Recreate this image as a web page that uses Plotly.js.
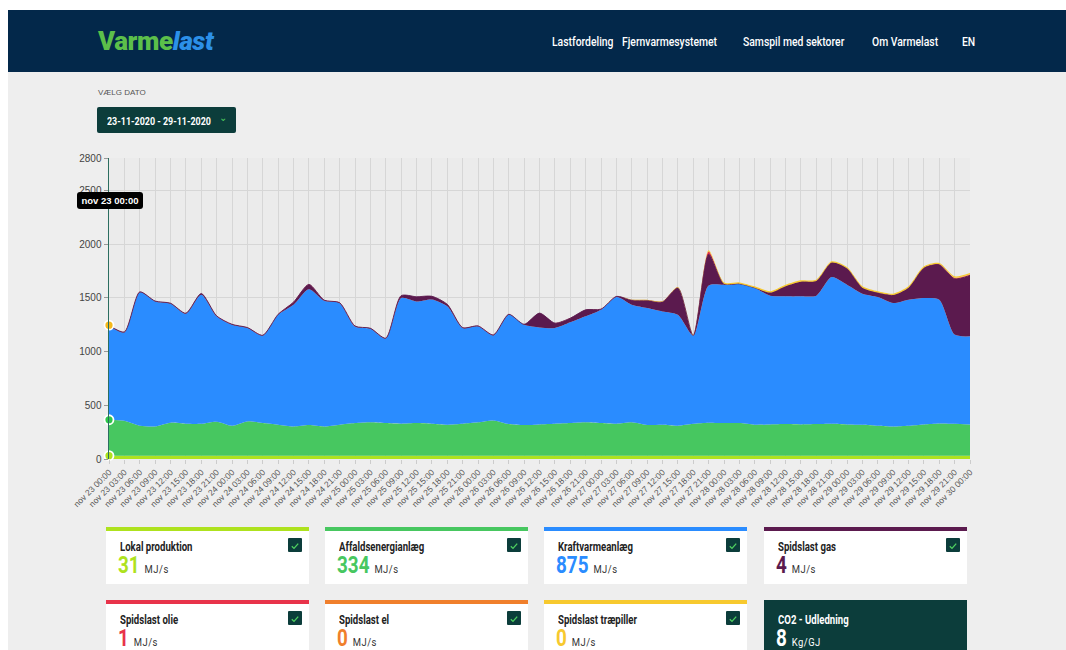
<!DOCTYPE html>
<html>
<head>
<meta charset="utf-8">
<script src="https://cdn.plot.ly/plotly-3.0.1.min.js"></script>
<style>
  html, body { margin:0; padding:0; background:#ffffff; width:1066px; height:650px; overflow:hidden; }
  body { font-family:'Roboto',sans-serif; }
  #page { position:absolute; left:8px; top:10px; width:1058px; height:640px; background:#eeeeee; }
  #header { position:absolute; left:8px; top:10px; width:1058px; height:62px; background:#03284a; }
  .logo { position:absolute; left:98px; top:26px; font-weight:900; font-size:26px; letter-spacing:-0.4px; }
  .logo .a { color:#5cbf4a; }
  .logo .b { color:#2c90e8; font-style:italic; }
  .nav { position:absolute; top:34px; color:#fff; font-weight:500; font-size:12.5px; transform:scaleX(0.83); transform-origin:0 0; white-space:nowrap; }
  .lbl { position:absolute; left:98px; top:88px; font-size:8px; color:#555; font-family:'Liberation Sans','Roboto',sans-serif; }
  .datebtn { position:absolute; left:97px; top:107px; width:139px; height:26px; background:#0c3d3b; border-radius:2px; }
  .datebtn span { position:absolute; left:10px; top:7.5px; color:#fff; font-weight:bold; font-size:10.5px; transform:scaleX(0.85); transform-origin:0 0; white-space:nowrap; }
  .datebtn i { position:absolute; left:122px; top:5px; color:#4ecb5e; font-style:normal; font-size:10px; }
  #chart { position:absolute; left:0; top:140px; width:1066px; height:380px; }
  .tip { position:absolute; left:77px; top:192px; width:66px; height:17px; background:#000; border-radius:3px; color:#fff;
         font-family:'Liberation Sans',Arial,sans-serif; font-weight:bold; font-size:9.5px; line-height:17px; text-align:center; }
  .card { position:absolute; width:203px; height:53px; background:#fff; border-top:4px solid #ccc; }
  .card .t { position:absolute; left:14px; top:10px; font-weight:700; font-size:12px; line-height:12px; color:#222; transform:scaleX(0.8); transform-origin:0 0; white-space:nowrap; }
  .card .v { position:absolute; left:12px; top:24px; font-weight:bold; font-size:23px; line-height:22px; transform:scaleX(0.82); transform-origin:0 0; white-space:nowrap; }
  .card .u { font-size:11.5px; color:#333; font-weight:400; margin-left:6px; letter-spacing:0.6px; }
  .card .cb { position:absolute; left:182px; top:7px; width:14px; height:14px; background:#0c3d3b; border-radius:1px; }
  .co2 { background:#0c3d3b; border-top:4px solid #0c3d3b; }
  .co2 .t, .co2 .v, .co2 .u { color:#fff; }
</style>
</head>
<body>
<div id="page"></div>
<div id="header"></div>
<div class="logo"><span class="a">Varme</span><span class="b">last</span></div>
<div class="nav" style="left:552px">Lastfordeling</div>
<div class="nav" style="left:622px">Fjernvarmesystemet</div>
<div class="nav" style="left:743px">Samspil med sektorer</div>
<div class="nav" style="left:872px">Om Varmelast</div>
<div class="nav" style="left:962px">EN</div>
<div class="lbl">VÆLG DATO</div>
<div class="datebtn"><span>23-11-2020 - 29-11-2020</span><i>&#8964;</i></div>
<div id="chart"></div>
<div id="cards"></div>
<script>
// ---- Data (3-hour resolution) ----
const times = [
 "2020-11-23 00:00","2020-11-23 03:00","2020-11-23 06:00","2020-11-23 09:00","2020-11-23 12:00","2020-11-23 15:00","2020-11-23 18:00","2020-11-23 21:00",
 "2020-11-24 00:00","2020-11-24 03:00","2020-11-24 06:00","2020-11-24 09:00","2020-11-24 12:00","2020-11-24 15:00","2020-11-24 18:00","2020-11-24 21:00",
 "2020-11-25 00:00","2020-11-25 03:00","2020-11-25 06:00","2020-11-25 09:00","2020-11-25 12:00","2020-11-25 15:00","2020-11-25 18:00","2020-11-25 21:00",
 "2020-11-26 00:00","2020-11-26 03:00","2020-11-26 06:00","2020-11-26 09:00","2020-11-26 12:00","2020-11-26 15:00","2020-11-26 18:00","2020-11-26 21:00",
 "2020-11-27 00:00","2020-11-27 03:00","2020-11-27 06:00","2020-11-27 09:00","2020-11-27 12:00","2020-11-27 15:00","2020-11-27 18:00","2020-11-27 21:00",
 "2020-11-28 00:00","2020-11-28 03:00","2020-11-28 06:00","2020-11-28 09:00","2020-11-28 12:00","2020-11-28 15:00","2020-11-28 18:00","2020-11-28 21:00",
 "2020-11-29 00:00","2020-11-29 03:00","2020-11-29 06:00","2020-11-29 09:00","2020-11-29 12:00","2020-11-29 15:00","2020-11-29 18:00","2020-11-29 21:00",
 "2020-11-30 00:00"];

const lokalProduktion = [31,31,31,31,31,31,31,31,31,31,31,31,31,31,31,31,31,31,31,31,31,31,31,31,31,31,31,31,31,31,31,31,31,31,31,31,31,31,31,31,31,31,31,31,31,31,31,31,31,31,31,31,31,31,31,31,31];
const affaldsenergianlaeg = [334,325,279,272,307,297,297,316,279,319,303,288,272,285,272,288,303,310,303,297,303,297,288,297,310,328,294,285,291,297,303,310,303,297,310,285,288,279,297,307,303,303,288,291,294,291,294,297,291,288,279,272,279,291,300,297,291];
const kraftvarmeanlaeg = [875,822,1240,1163,1107,1024,1200,980,939,869,813,1023,1132,1264,1169,1131,899,871,786,1169,1132,1156,1101,890,893,791,1017,933,902,890,937,986,1055,1179,1095,1089,1054,1032,822,1277,1288,1294,1272,1197,1188,1191,1194,1365,1300,1219,1197,1148,1172,1176,1151,829,819];
const spidslastGas = [4,4,4,3,4,4,11,4,4,4,4,4,24,44,5,4,4,4,4,22,43,30,19,4,4,4,4,4,133,46,39,61,5,5,41,70,89,251,0,290,8,2,2,28,94,136,136,133,151,55,40,74,111,281,326,520,567];
const spidslastOlie = [1,1,1,1,1,1,1,1,1,1,1,1,1,1,1,1,1,1,1,1,1,1,1,1,1,1,1,1,1,1,1,1,1,1,1,1,1,1,3,25,1,1,1,1,1,1,1,1,1,1,1,1,1,1,3,6,6];
const spidslastEl = [0,0,0,0,0,0,0,0,0,0,0,0,0,0,0,0,0,0,0,0,0,0,0,0,0,0,0,0,0,0,0,0,0,0,0,0,0,0,0,0,0,0,0,0,0,0,0,0,0,0,0,0,0,0,0,4,4];
const spidslastTraepiller = [0,0,0,0,0,0,0,0,0,0,0,0,0,0,0,0,0,0,0,0,0,0,0,0,0,0,0,0,0,0,0,0,0,0,4,6,4,6,2,12,12,12,12,12,12,12,12,12,12,12,12,12,12,12,12,12,12];

const yTicks = [0,500,1000,1500,2000,2500,2800];
const seriesNames = ["Lokal produktion","Affaldsenergianlæg","Kraftvarmeanlæg","Spidslast gas","Spidslast olie","Spidslast el","Spidslast træpiller"];
const seriesColors = ["#aee21e","#47c760","#2a8cff","#5b1a4e","#e8334a","#f07f2c","#f7c92e"];
const lineWidths = [0, 0, 0, 0.9, 0, 0, 0];
const seriesData = [lokalProduktion, affaldsenergianlaeg, kraftvarmeanlaeg, spidslastGas, spidslastOlie, spidslastEl, spidslastTraepiller];
const co2Value = 8;

const tickLabels = times.map(t => "nov " + t.slice(8,10) + " " + t.slice(11));

const traces = seriesData.map((d, k) => ({
  type:'scatter', mode:'lines', x: times, y: d, name: seriesNames[k],
  stackgroup:'one', fillcolor: seriesColors[k],
  line:{color: seriesColors[k], width: lineWidths[k], shape:'spline', smoothing:0.7},
  hoverinfo:'skip'
}));

// hover markers at the first time point (cumulative values)
function cum(k){ let s=0; for(let j=0;j<=k;j++) s+=seriesData[j][0]; return s; }
const markerIdx = [0,1,6];
const markerCols = ["#aee21e","#2fc74a","#f5b91c"];
markerIdx.forEach((k,m) => {
  traces.push({type:'scatter', mode:'markers', x:[times[0]], y:[cum(k)], showlegend:false, hoverinfo:'skip',
    marker:{size:9, color:markerCols[m], line:{color:'#ffffff', width:1.8}}, cliponaxis:false});
});

const layout = {
  width:1066, height:380,
  margin:{l:109, r:96, t:18, b:61},
  paper_bgcolor:'rgba(0,0,0,0)', plot_bgcolor:'#ebebeb',
  showlegend:false,
  font:{family:'Liberation Sans, Arial, sans-serif', color:'#555'},
  xaxis:{type:'date', range:[times[0], times[times.length-1]], tickvals:times, ticktext:tickLabels,
    tickangle:-45, tickfont:{size:8.5, color:'#555'}, showgrid:true, gridcolor:'#d6d6d6', gridwidth:1,
    ticks:'outside', ticklen:4, tickcolor:'#cccccc', showline:false, zeroline:false, fixedrange:true},
  yaxis:{range:[0,2800], tickvals:yTicks, tickfont:{size:10, color:'#444'}, showgrid:true, gridcolor:'#d6d6d6',
    ticks:'outside', ticklen:4, tickcolor:'#999', showline:true, linecolor:'#2b6e60', linewidth:1.5, zeroline:false, fixedrange:true}
};
Plotly.newPlot('chart', traces, layout, {displayModeBar:false, staticPlot:true});

// hover tooltip (first time point label)
const tip = document.createElement('div');
tip.className = 'tip';
tip.textContent = tickLabels[0];
document.body.appendChild(tip);

// ---- cards ----
const cardLefts = [106,325,544,764];
const firstValues = [lokalProduktion[0], affaldsenergianlaeg[0], kraftvarmeanlaeg[0], spidslastGas[0], spidslastOlie[0], spidslastEl[0], spidslastTraepiller[0]];
const check = '<svg width="14" height="14" viewBox="0 0 14 14"><polyline points="3.8,7.2 6,9.4 10.2,4.6" fill="none" stroke="#4fd160" stroke-width="1.3"/></svg>';
let html = '';
for (let k=0;k<8;k++){
  const row = Math.floor(k/4), col = k%4;
  const top = row===0 ? 527 : 600;
  if (k<7){
    html += `<div class="card" style="left:${cardLefts[col]}px;top:${top}px;border-top-color:${seriesColors[k]}">
      <div class="t">${seriesNames[k]}</div><div class="cb">${check}</div>
      <div class="v" style="color:${seriesColors[k]}">${firstValues[k]}<span class="u">MJ/s</span></div></div>`;
  } else {
    html += `<div class="card co2" style="left:${cardLefts[col]}px;top:${top}px">
      <div class="t">CO2 - Udledning</div>
      <div class="v">${co2Value}<span class="u">Kg/GJ</span></div></div>`;
  }
}
document.getElementById('cards').innerHTML = html;
</script>
</body>
</html>
